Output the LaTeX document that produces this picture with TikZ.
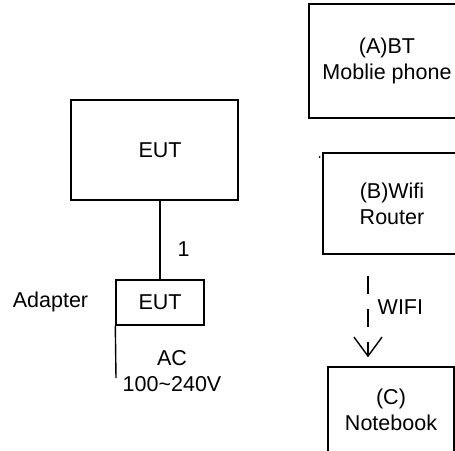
\documentclass[tikz,border=0pt]{standalone}
\usepackage{fontspec}
\setmainfont{Liberation Sans}
\usetikzlibrary{arrows.meta}
\begin{document}
\begin{tikzpicture}[x=1pt,y=-1pt,
  every node/.style={font=\fontsize{21.5}{26}\selectfont, inner sep=0pt},
  box/.style={draw, line width=1.4pt, rectangle, align=center},
  wire/.style={line width=1.4pt},
  lbl/.style={align=center}]
\useasboundingbox (0,0) rectangle (455,450);
\clip (0,0) rectangle (455,450);
% right column
\node[box, minimum width=156pt, minimum height=114pt] (A) at (387,61) {(A)BT\\Moblie phone};
\node[box, minimum width=138pt, minimum height=101pt] (B) at (392,203.5) {(B)Wifi\\Router};
\node[box, minimum width=126pt, minimum height=86pt] (C) at (391,410) {(C)\\Notebook};
\fill (319.5,157) circle (1pt);
\draw[wire, dash pattern=on 18pt off 15pt, shorten <=21pt, shorten >=9pt,
  -{Straight Barb[length=19pt,width=28pt,line width=1.4pt]}]
  (B.south -| 368,0) -- node[right=9pt, pos=0.47] (wifi) {WIFI} (C.north -| 368,0);
% left column
\node[box, minimum width=167pt, minimum height=100pt] (eut) at (154.5,150) {\hspace*{11pt}EUT};
\node[box, minimum width=88pt, minimum height=45pt] (adp) at (160,302.5) {EUT};
\node (adplbl) at (50.5,302) {Adapter};
\draw[wire] (adp.north |- eut.south) -- node[right=17pt, pos=0.62] (one) {1} (adp.north);
\coordinate (acend) at (116,378);
\draw[wire] (adp.south west) -- (acend);
\node[lbl] (ac) at (172,371) {AC\\100\textasciitilde240V};
\end{tikzpicture}
\end{document}
